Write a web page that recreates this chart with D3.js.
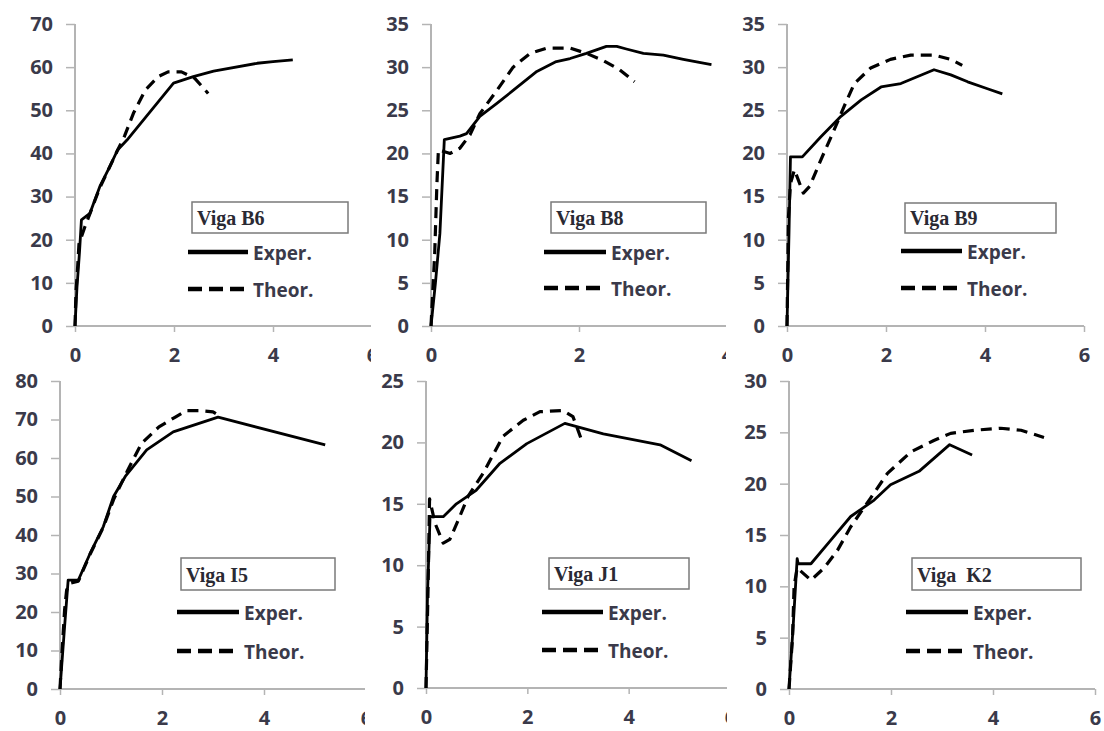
<!DOCTYPE html>
<html>
<head>
<meta charset="utf-8">
<script src="https://cdn.jsdelivr.net/npm/d3@7"></script>
<style>
  body { margin: 0; background: #fff; }
  svg { display: block; }
</style>
</head>
<body>
<script>
var width = 1104;
var height = 731;

// beam names (legend box text)
var beamNames = ['Viga B6', 'Viga B8', 'Viga B9', 'Viga I5', 'Viga J1', 'Viga  K2'];
var seriesNames = ['Exper.', 'Theor.'];

// axis limits and ticks for each beam
var xMax = [6, 4, 6, 6, 6, 6];
var xTicks = [0, 2, 4, 6];
var yMax = [70, 35, 35, 80, 25, 30];
var yStep = [10, 5, 5, 10, 5, 5];

// curves: [deflection, load]
var b6Exper = [[0,0],[0.04,9],[0.09,17],[0.13,24.6],[0.3,26.1],[0.5,32.3],[0.7,36.9],[0.86,40.8],[1.05,43.1],[1.99,56.3],[2.39,57.8],[2.8,59.1],[3.68,60.9],[4.0,61.3],[4.4,61.7]];
var b6Theor = [[0,0],[0.02,8],[0.05,13],[0.08,19],[0.2,23],[0.5,32],[0.85,40.5],[1.0,44],[1.18,49.3],[1.42,54.7],[1.68,57.8],[1.88,58.9],[2.15,58.9],[2.42,57.4],[2.69,53.9]];

var b8Exper = [[0,0],[0.06,5],[0.12,10.7],[0.18,21.6],[0.39,22.0],[0.48,22.3],[0.66,24.3],[0.89,25.8],[1.11,27.3],[1.43,29.5],[1.68,30.6],[1.88,31.0],[2.1,31.6],[2.37,32.4],[2.51,32.4],[2.64,32.1],[2.87,31.6],[3.14,31.4],[3.41,30.9],[3.59,30.6],[3.79,30.3]];
var b8Theor = [[0,0],[0.05,8.4],[0.08,16.5],[0.1,20.4],[0.26,20.0],[0.39,20.6],[0.53,22.2],[0.66,24.6],[0.89,27.3],[1.11,30.0],[1.34,31.6],[1.56,32.2],[1.88,32.2],[2.1,31.6],[2.32,30.8],[2.55,29.7],[2.75,28.3]];

var b9Exper = [[0,0],[0.04,10.7],[0.07,19.6],[0.31,19.6],[0.68,21.9],[1.09,24.3],[1.5,26.2],[1.9,27.7],[2.3,28.1],[2.97,29.7],[3.31,29.1],[3.65,28.3],[4.05,27.5],[4.35,26.9]];
var b9Theor = [[0,0],[0.03,12.7],[0.07,16.5],[0.15,18.1],[0.33,15.4],[0.46,16.2],[0.68,19.2],[0.92,22.3],[1.15,25.4],[1.36,28.1],[1.69,29.9],[2.09,30.9],[2.5,31.4],[2.97,31.4],[3.31,30.9],[3.54,30.2]];

var i5Exper = [[0,0],[0.09,16.2],[0.16,28.3],[0.36,28.3],[0.59,35.2],[0.85,42.2],[1.05,50.0],[1.28,55.2],[1.7,62.1],[2.22,66.8],[3.1,70.6],[5.2,63.4]];
var i5Theor = [[0,0],[0.03,7.5],[0.09,20.5],[0.13,25.7],[0.2,27.5],[0.36,28],[0.59,35],[0.85,42],[1.05,49.2],[1.33,56.9],[1.6,63.8],[1.94,68.1],[2.27,70.7],[2.48,72.3],[2.75,72.3],[3.0,72.0],[3.1,71.2]];

var j1Exper = [[0,0],[0.03,7.7],[0.08,13.95],[0.34,13.95],[0.6,15.0],[0.99,16.1],[1.46,18.3],[1.99,19.9],[2.74,21.55],[3.5,20.7],[4.62,19.8],[5.24,18.5]];
var j1Theor = [[0,0],[0.04,8],[0.07,15.4],[0.18,13.4],[0.34,11.8],[0.47,12.1],[0.64,13.7],[0.83,15.6],[1.13,17.5],[1.52,20.5],[1.92,21.8],[2.25,22.5],[2.7,22.6],[2.9,22.1],[3.0,21.0],[3.07,20.2]];

var k2Exper = [[0,0],[0.08,6],[0.16,12.7],[0.18,12.2],[0.43,12.2],[0.82,14.5],[1.21,16.8],[1.67,18.4],[1.99,19.9],[2.55,21.2],[3.15,23.8],[3.59,22.8]];
var k2Theor = [[0,0],[0.07,5.1],[0.1,10.0],[0.16,11.8],[0.43,10.6],[0.69,11.8],[0.95,13.5],[1.21,15.8],[1.6,18.6],[1.93,21.0],[2.39,23.1],[2.84,24.2],[3.17,24.9],[3.63,25.2],[4.15,25.4],[4.55,25.2],[5.0,24.5]];

var experData = [b6Exper, b8Exper, b9Exper, i5Exper, j1Exper, k2Exper];
var theorData = [b6Theor, b8Theor, b9Theor, i5Theor, j1Theor, k2Theor];

// panel layout (pixels): plot area, clip box and legend spots
var panels = [
  {x0: 75,  x1: 372,  y0: 326, y1: 24,  clip: [0, 371],    box: [192, 202, 156, 31], lx: [188, 248], ly: [252, 289]},
  {x0: 431, x1: 727,  y0: 326, y1: 24,  clip: [373, 726],  box: [551, 202, 155, 31], lx: [544, 606], ly: [252, 288]},
  {x0: 787, x1: 1084, y0: 326, y1: 24,  clip: [734, 1104], box: [905, 203, 151, 30], lx: [901, 962], ly: [251, 288]},
  {x0: 60,  x1: 366,  y0: 689, y1: 381, clip: [0, 365],    box: [181, 558, 154, 32], lx: [177, 239], ly: [612, 651]},
  {x0: 426, x1: 730,  y0: 688, y1: 381, clip: [370, 727],  box: [549, 558, 140, 31], lx: [542, 603], ly: [612, 650]},
  {x0: 789, x1: 1095, y0: 689, y1: 381, clip: [734, 1104], box: [912, 558, 169, 32], lx: [906, 968], ly: [612, 651]}
];

var tickFont = '"Open Sans", "DejaVu Sans", sans-serif';
var boxFont = '"Liberation Serif", "Times New Roman", serif';
var textColor = '#3a3a4a';
var axisColor = '#b4b4b4';

var svg = d3.select('body').append('svg')
  .attr('width', width)
  .attr('height', height);

svg.append('rect').attr('width', width).attr('height', height).attr('fill', '#fff');

var defs = svg.append('defs');

panels.forEach(function(p, i){
  defs.append('clipPath').attr('id', 'clip' + i)
    .append('rect')
    .attr('x', p.clip[0]).attr('y', p.y1 - 20)
    .attr('width', p.clip[1] - p.clip[0]).attr('height', p.y0 - p.y1 + 70);

  var g = svg.append('g').attr('clip-path', 'url(#clip' + i + ')');

  var x = d3.scaleLinear().domain([0, xMax[i]]).range([p.x0, p.x1]);
  var y = d3.scaleLinear().domain([0, yMax[i]]).range([p.y0, p.y1]);

  // y axis
  var yAxis = d3.axisLeft(y).tickValues(d3.range(0, yMax[i] + 0.001, yStep[i]))
    .tickSize(9).tickPadding(13).tickFormat(d3.format('d'));
  var ya = g.append('g').attr('transform', 'translate(' + p.x0 + ',0)').call(yAxis);

  // x axis
  var xAxis = d3.axisBottom(x).tickValues(xTicks.filter(function(t){ return t <= xMax[i]; }))
    .tickSize(6).tickPadding(16).tickFormat(d3.format('d'));
  var xa = g.append('g').attr('transform', 'translate(0,' + p.y0 + ')').call(xAxis);

  [ya, xa].forEach(function(a){
    a.select('.domain').attr('stroke', axisColor).attr('stroke-width', 2);
    a.selectAll('.tick line').attr('stroke', axisColor).attr('stroke-width', 1.5);
    a.selectAll('.tick text')
      .attr('fill', textColor)
      .style('font-family', tickFont)
      .style('font-size', '20px')
      .style('font-weight', 700);
  });
  ya.selectAll('.domain').attr('d', 'M0,' + p.y1 + 'V' + p.y0);
  xa.selectAll('.domain').attr('d', 'M' + p.x0 + ',0H' + p.x1);

  var line = d3.line()
    .x(function(d){ return x(d[0]); })
    .y(function(d){ return y(d[1]); });

  g.append('path')
    .datum(theorData[i])
    .attr('d', line)
    .attr('fill', 'none')
    .attr('stroke', '#000')
    .attr('stroke-width', 3.2)
    .attr('stroke-dasharray', '11,7')
    .attr('stroke-linejoin', 'round');

  g.append('path')
    .datum(experData[i])
    .attr('d', line)
    .attr('fill', 'none')
    .attr('stroke', '#000')
    .attr('stroke-width', 2.8)
    .attr('stroke-linejoin', 'round');

  // legend box with the beam name
  g.append('rect')
    .attr('x', p.box[0]).attr('y', p.box[1])
    .attr('width', p.box[2]).attr('height', p.box[3])
    .attr('fill', '#fff')
    .attr('stroke', '#7a7a7a')
    .attr('stroke-width', 1.5);
  g.append('text')
    .attr('x', p.box[0] + 5).attr('y', p.box[1] + p.box[3] - 8)
    .attr('fill', '#2a2a33')
    .style('font-family', boxFont)
    .style('font-size', '20px')
    .style('font-weight', 'bold')
    .style('white-space', 'pre')
    .text(beamNames[i]);

  // legend entries
  seriesNames.forEach(function(name, k){
    g.append('line')
      .attr('x1', p.lx[0]).attr('x2', p.lx[1])
      .attr('y1', p.ly[k]).attr('y2', p.ly[k])
      .attr('stroke', '#000')
      .attr('stroke-width', 4.5)
      .attr('stroke-dasharray', k == 1 ? '14,7' : null);
    g.append('text')
      .attr('x', p.lx[1] + 5).attr('y', p.ly[k] + 8)
      .attr('fill', textColor)
      .style('font-family', tickFont)
      .style('font-size', '19px')
      .style('font-weight', 700)
      .text(name);
  });
});
</script>
</body>
</html>
